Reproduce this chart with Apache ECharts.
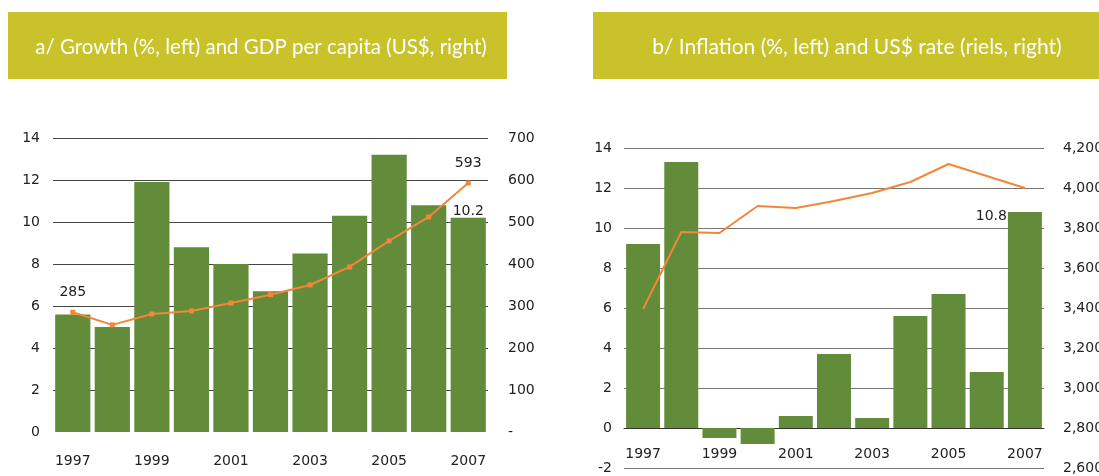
<!DOCTYPE html>
<html>
<head>
<meta charset="utf-8">
<script src="https://cdn.jsdelivr.net/npm/echarts@6/dist/echarts.min.js"></script>
<style>
  body { margin: 0; background: #fff; }
  #main { width: 1099px; height: 476px; }
</style>
</head>
<body>
<div id="main"></div>
<script>
var years = ['1997', '1998', '1999', '2000', '2001', '2002', '2003', '2004', '2005', '2006', '2007']
// a/ growth (%) and GDP per capita (US$)
var growth = [5.6, 5.0, 11.9, 8.8, 8.0, 6.7, 8.5, 10.3, 13.2, 10.8, 10.2]
var gdpPerCapita = [285, 255, 281, 288, 307, 327, 350, 393, 455, 512, 593]
// b/ inflation (%) and US$ rate (riels)
var inflation = [9.2, 13.3, -0.5, -0.8, 0.6, 3.7, 0.5, 5.6, 6.7, 2.8, 10.8]
var rielRate = [3395, 3780, 3775, 3910, 3900, 3935, 3975, 4030, 4120, 4060, 4000]

var titleA = 'a/ Growth (%, left) and GDP per capita (US$, right)'
var titleB = 'b/ Inflation (%, left) and US$ rate (riels, right)'

var green = '#628b3a'
var orange = '#f0873a'
var headerColor = '#c9c22b'
var font = 'DejaVu Sans'
var last = years.length - 1

// only some points carry a label
function withLabel (values, idx, label) {
  return values.map(function (v, i) {
    return i === idx ? { value: v, label: label } : v
  })
}

var myChart = echarts.init(document.getElementById('main'))
var labelStyle = { color: '#222', fontSize: 14, fontFamily: font }

var option = {
  animation: false,
  textStyle: { fontFamily: font },
  graphic: [
    { type: 'rect', shape: { x: 8, y: 12, width: 499, height: 67 }, style: { fill: headerColor } },
    { type: 'text', x: 261, y: 47, style: { text: titleA, fill: '#fff', font: '20.5px Lato', align: 'center', verticalAlign: 'middle' } },
    { type: 'rect', shape: { x: 593, y: 12, width: 528, height: 67 }, style: { fill: headerColor } },
    { type: 'text', x: 857, y: 47, style: { text: titleB, fill: '#fff', font: '21px Lato', align: 'center', verticalAlign: 'middle' } }
  ],
  grid: [
    { left: 53, right: 611, top: 138, bottom: 44, outerBoundsMode: 'none' },
    { left: 624, right: 55, top: 148, bottom: 8, outerBoundsMode: 'none' }
  ],
  xAxis: [
    {
      type: 'category',
      gridIndex: 0,
      data: years,
      axisLine: { show: false },
      axisTick: { show: false },
      axisLabel: Object.assign({ interval: 1, margin: 22 }, labelStyle)
    },
    {
      // sits on the zero line: 2 units of 20px above the -2 bottom edge
      type: 'category',
      gridIndex: 1,
      data: years,
      position: 'bottom',
      offset: -40,
      axisLine: { onZero: false, lineStyle: { color: '#333', width: 1 } },
      axisTick: { interval: 0, length: 5, lineStyle: { color: '#333' } },
      axisLabel: Object.assign({ interval: 1, margin: 19 }, labelStyle)
    }
  ],
  yAxis: [
    {
      type: 'value',
      gridIndex: 0,
      min: 0,
      max: 14,
      interval: 2,
      axisLabel: Object.assign({ margin: 13 }, labelStyle),
      splitLine: {
        lineStyle: { color: ['transparent', '#444', '#444', '#444', '#444', '#444', '#444', '#444'] }
      }
    },
    {
      type: 'value',
      gridIndex: 0,
      min: 0,
      max: 700,
      interval: 100,
      position: 'right',
      axisLabel: Object.assign({
        margin: 20,
        formatter: function (v) { return v === 0 ? '-' : v }
      }, labelStyle),
      splitLine: { show: false }
    },
    {
      type: 'value',
      gridIndex: 1,
      min: -2,
      max: 14,
      interval: 2,
      axisLabel: Object.assign({ margin: 12 }, labelStyle),
      splitLine: { lineStyle: { color: '#777' } }
    },
    {
      type: 'value',
      gridIndex: 1,
      min: 2600,
      max: 4200,
      interval: 200,
      position: 'right',
      axisLabel: Object.assign({
        margin: 19,
        formatter: function (v) { return v.toLocaleString('en-US') }
      }, labelStyle),
      splitLine: { show: false }
    }
  ],
  series: [
    {
      name: 'Growth',
      type: 'bar',
      xAxisIndex: 0,
      yAxisIndex: 0,
      barCategoryGap: '11%',
      itemStyle: { color: green },
      data: withLabel(growth, last, Object.assign({ show: true, position: 'top', distance: -1 }, labelStyle))
    },
    {
      name: 'GDP per capita',
      type: 'line',
      xAxisIndex: 0,
      yAxisIndex: 1,
      symbol: 'rect',
      symbolSize: 5,
      lineStyle: { color: orange, width: 2 },
      itemStyle: { color: orange },
      data: gdpPerCapita.map(function (v, i) {
        if (i === 0 || i === last) {
          return { value: v, label: Object.assign({ show: true, position: 'top', distance: 10 }, labelStyle) }
        }
        return v
      })
    },
    {
      name: 'Inflation',
      type: 'bar',
      xAxisIndex: 1,
      yAxisIndex: 2,
      barCategoryGap: '11%',
      itemStyle: { color: green },
      data: withLabel(inflation, last, Object.assign({ show: true, position: [-1, -3], align: 'right', verticalAlign: 'top' }, labelStyle))
    },
    {
      name: 'US$ rate',
      type: 'line',
      xAxisIndex: 1,
      yAxisIndex: 3,
      symbol: 'none',
      lineStyle: { color: orange, width: 2 },
      data: rielRate
    }
  ]
}
myChart.setOption(option)
</script>
</body>
</html>
